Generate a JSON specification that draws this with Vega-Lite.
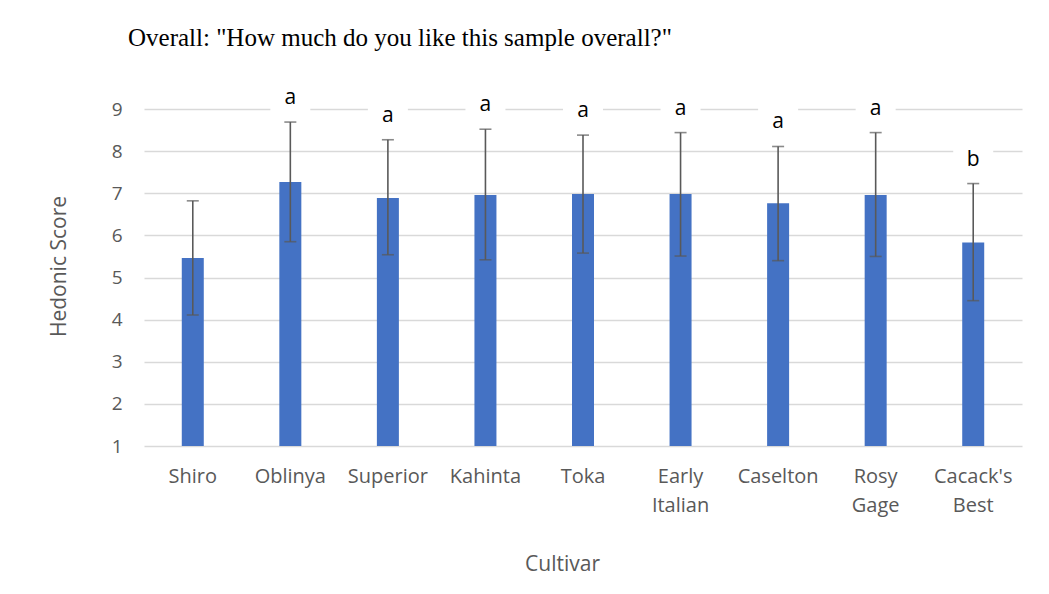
{
  "$schema": "https://vega.github.io/schema/vega-lite/v6.json",
  "autosize": "none",
  "width": 878,
  "height": 337,
  "padding": {"left": 144, "top": 109, "right": 27, "bottom": 148},
  "background": "white",
  "config": {"view": {"stroke": null}},
  "title": {
    "text": "Overall: \"How much do you like this sample overall?\"",
    "anchor": "start",
    "frame": "group",
    "font": "Liberation Serif",
    "fontSize": 25,
    "fontWeight": "normal",
    "color": "#000000",
    "baseline": "alphabetic",
    "dx": -16,
    "offset": 9
  },
  "data": {
    "values": [
      {"cultivar": "Shiro", "mean": 5.46, "lower": 4.11, "upper": 6.82, "group": ""},
      {"cultivar": "Oblinya", "mean": 7.27, "lower": 5.85, "upper": 8.69, "group": "a"},
      {"cultivar": "Superior", "mean": 6.89, "lower": 5.54, "upper": 8.27, "group": "a"},
      {"cultivar": "Kahinta", "mean": 6.96, "lower": 5.42, "upper": 8.52, "group": "a"},
      {"cultivar": "Toka", "mean": 6.98, "lower": 5.58, "upper": 8.38, "group": "a"},
      {"cultivar": "Early Italian", "mean": 6.98, "lower": 5.51, "upper": 8.44, "group": "a"},
      {"cultivar": "Caselton", "mean": 6.76, "lower": 5.4, "upper": 8.11, "group": "a"},
      {"cultivar": "Rosy Gage", "mean": 6.96, "lower": 5.5, "upper": 8.44, "group": "a"},
      {"cultivar": "Cacack's Best", "mean": 5.83, "lower": 4.45, "upper": 7.23, "group": "b"}
    ]
  },
  "encoding": {
    "x": {
      "field": "cultivar",
      "type": "nominal",
      "sort": null,
      "scale": {"paddingInner": 0, "paddingOuter": 0},
      "axis": {
        "title": "Cultivar",
        "labelAngle": 0,
        "labelExpr": "split(datum.label, ' ')",
        "labelFont": "Open Sans",
        "labelFontSize": 20,
        "labelColor": "#595959",
        "labelLineHeight": 29,
        "labelBaseline": "top",
        "labelPadding": 20,
        "labelDx": 13,
        "ticks": false,
        "domain": false,
        "grid": false,
        "titleFont": "Open Sans",
        "titleFontSize": 21,
        "titleFontWeight": "normal",
        "titleColor": "#595959",
        "titleX": 418,
        "titleY": 118,
        "titleAnchor": "middle",
        "titleAlign": "center",
        "titleBaseline": "middle"
      }
    }
  },
  "layer": [
    {
      "mark": {"type": "bar", "color": "#4472C4", "size": 22},
      "encoding": {
        "y": {
          "field": "mean",
          "type": "quantitative",
          "scale": {"domain": [1, 9], "zero": false, "nice": false},
          "axis": {
            "title": "Hedonic Score",
            "values": [1, 2, 3, 4, 5, 6, 7, 8, 9],
            "labelFont": "Open Sans",
            "labelFontSize": 19,
            "labelColor": "#595959",
            "labelPadding": 22,
            "ticks": false,
            "domain": false,
            "grid": true,
            "gridColor": "#d9d9d9",
            "gridWidth": 1.5,
            "titleFont": "Open Sans",
            "titleFontSize": 21,
            "titleFontWeight": "normal",
            "titleColor": "#595959",
            "titleAngle": -90,
            "titleX": -85,
            "titleY": 157,
            "titleAlign": "center",
            "titleBaseline": "middle"
          }
        },
        "y2": {"datum": 1}
      }
    },
    {
      "mark": {"type": "rule", "color": "#595959", "strokeWidth": 1.6},
      "encoding": {
        "y": {"field": "lower", "type": "quantitative"},
        "y2": {"field": "upper"}
      }
    },
    {
      "mark": {"type": "tick", "color": "#595959", "thickness": 1.6, "size": 12, "orient": "horizontal"},
      "encoding": {"y": {"field": "lower", "type": "quantitative"}}
    },
    {
      "mark": {"type": "tick", "color": "#595959", "thickness": 1.6, "size": 12, "orient": "horizontal"},
      "encoding": {"y": {"field": "upper", "type": "quantitative"}}
    },
    {
      "transform": [{"filter": "datum.group != ''"}],
      "mark": {
        "type": "point",
        "shape": "M-1,-0.9H1V0.9H-1Z",
        "filled": true,
        "color": "white",
        "opacity": 1,
        "size": 1600,
        "yOffset": -24
      },
      "encoding": {"y": {"field": "upper", "type": "quantitative"}}
    },
    {
      "mark": {
        "type": "text",
        "font": "Open Sans",
        "fontSize": 21,
        "color": "#000000",
        "baseline": "middle",
        "dy": -24
      },
      "encoding": {
        "y": {"field": "upper", "type": "quantitative"},
        "text": {"field": "group"}
      }
    }
  ]
}
